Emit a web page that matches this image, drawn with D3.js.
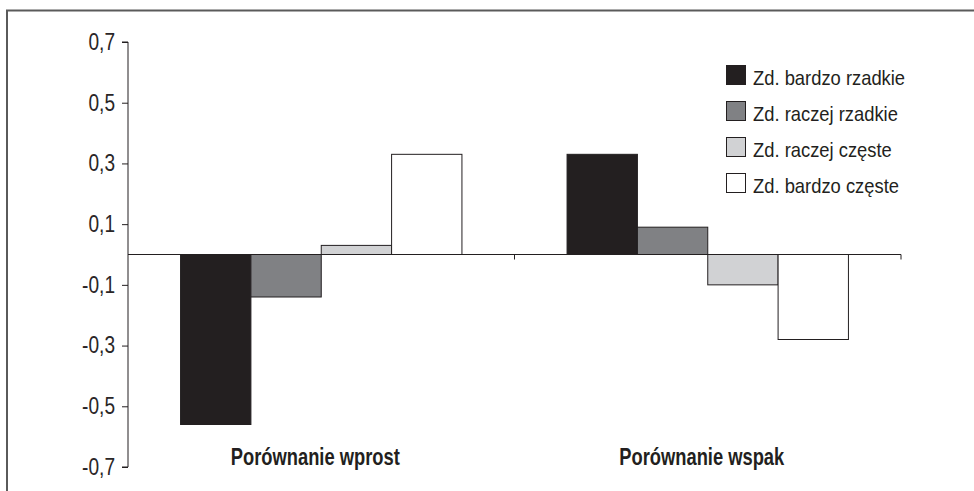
<!DOCTYPE html>
<html>
<head>
<meta charset="utf-8">
<script src="https://cdn.jsdelivr.net/npm/d3@7/dist/d3.min.js"></script>
<style>
  html, body { margin: 0; padding: 0; background: #fff; }
  svg { display: block; }
  text { font-family: "Liberation Sans", Arial, sans-serif; }
</style>
</head>
<body>
<svg id="chart" width="974" height="491"></svg>
<script>
// ---- data ----
const categories = ["Porównanie wprost", "Porównanie wspak"];
const seriesNames = ["Zd. bardzo rzadkie", "Zd. raczej rzadkie", "Zd. raczej częste", "Zd. bardzo częste"];
const seriesWprost = [-0.56, -0.14, 0.03, 0.33];
const seriesWspak = [0.33, 0.09, -0.10, -0.28];
const tickValues = [-0.7, -0.5, -0.3, -0.1, 0.1, 0.3, 0.5, 0.7];
const tickLabels = ["-0,7", "-0,5", "-0,3", "-0,1", "0,1", "0,3", "0,5", "0,7"];

// ---- styles ----
const colors = ["#231f20", "#808184", "#d1d2d4", "#ffffff"];
const stroke = "#231f20";
const tickScaleX = 0.83, legendScaleX = 0.875, catScaleX = 0.78;

const svg = d3.select("#chart");

// frame
svg.append("path")
  .attr("d", "M7,491 V10.5 H974")
  .attr("fill", "none").attr("stroke", "#5a5a5a").attr("stroke-width", 2);

const x0 = 128, x1 = 901;
const y = d3.scaleLinear().domain([-0.7, 0.7]).range([467, 42]);
const x = d3.scaleBand().domain(categories).range([x0, x1]).paddingInner(0).paddingOuter(0);
const inner = d3.scaleBand().domain(seriesNames).range([0, x.bandwidth() * 0.728]);
const groupOffset = (x.bandwidth() - inner.range()[1]) / 2;

const dataRows = [seriesWprost, seriesWspak];

// y axis
const yAxis = d3.axisLeft(y).tickValues(tickValues).tickFormat((d, i) => tickLabels[i]).tickSize(6).tickPadding(7);
const gy = svg.append("g").attr("transform", `translate(${x0},0)`).call(yAxis);
gy.select(".domain").attr("stroke", "#231f20").attr("stroke-width", 1).attr("d", `M-6,${y(0.7)}H0V${y(-0.7)}H-6`);
gy.selectAll(".tick line").attr("stroke", "#231f20");
gy.selectAll(".tick text")
  .attr("font-family", "Liberation Sans, Arial, sans-serif")
  .attr("font-size", 23).attr("fill", "#2a2627")
  .attr("x", -13 / tickScaleX)
  .attr("transform", `scale(${tickScaleX},1)`);

// bars
categories.forEach((c, ci) => {
  const g = svg.append("g");
  g.selectAll("rect").data(dataRows[ci]).enter().append("rect")
    .attr("x", (d, i) => x(c) + groupOffset + inner(seriesNames[i]))
    .attr("y", d => y(Math.max(0, d)))
    .attr("width", inner.bandwidth())
    .attr("height", d => Math.abs(y(d) - y(0)))
    .attr("fill", (d, i) => colors[i])
    .attr("stroke", stroke).attr("stroke-width", 1);
});

// x axis (zero line)
svg.append("line").attr("x1", x0).attr("x2", x1).attr("y1", y(0)).attr("y2", y(0))
  .attr("stroke", "#231f20").attr("stroke-width", 1);
categories.forEach(c => {
  const xe = x(c) + x.bandwidth();
  svg.append("line").attr("x1", xe).attr("x2", xe).attr("y1", y(0)).attr("y2", y(0) + 5)
    .attr("stroke", "#231f20").attr("stroke-width", 1);
});

// category labels
svg.selectAll(".catlabel").data(categories).enter().append("text")
  .attr("transform", d => `translate(${x(d) + x.bandwidth() / 2 - 6},465) scale(${catScaleX},1)`)
  .attr("text-anchor", "middle")
  .attr("font-size", 23.5).attr("font-weight", "bold").attr("fill", "#231f20")
  .text(d => d);

// legend
const lg = svg.append("g").attr("transform", "translate(726,65)");
seriesNames.forEach((s, i) => {
  const row = lg.append("g").attr("transform", `translate(0,${i * 36})`);
  row.append("rect").attr("x", 0.5).attr("y", 0.5).attr("width", 19).attr("height", 19)
    .attr("fill", colors[i]).attr("stroke", stroke).attr("stroke-width", 1);
  row.append("text").attr("transform", `translate(27,20) scale(${legendScaleX},1)`)
    .attr("font-size", 21).attr("fill", "#231f20").text(s);
});
</script>
</body>
</html>
